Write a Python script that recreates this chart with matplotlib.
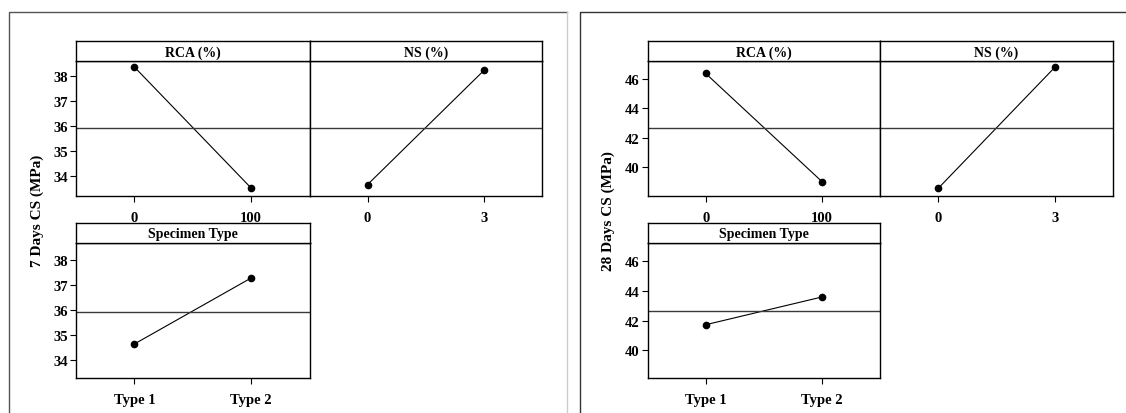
import matplotlib.pyplot as plt
from matplotlib.lines import Line2D

# main effects plot data (means)
rca_levels = ["0", "100"]
ns_levels = ["0", "3"]
spec_levels = ["Type 1", "Type 2"]

rca_7 = [38.38, 33.53]
ns_7 = [33.67, 38.24]
spec_7 = [34.64, 37.28]
mean_7 = 35.94

rca_28 = [46.36, 39.05]
ns_28 = [38.59, 46.77]
spec_28 = [41.73, 43.60]
mean_28 = 42.66

plt.rcParams['font.family'] = ['Liberation Serif', 'DejaVu Serif']
plt.rcParams['font.weight'] = 'bold'

W, H = 1126, 414
fig = plt.figure(figsize=(W / 100, H / 100), dpi=100)


def box(x0, y0, x1, y1):
    # pixel box (y from top) -> figure fraction rect
    return [x0 / W, 1 - y1 / H, (x1 - x0) / W, (y1 - y0) / H]


def panel(x0, x1, ytop, ybot, strip_top, title, levels, vals, mean,
          ylim, yticks, left_ticks=True):
    ax = fig.add_axes(box(x0, ytop, x1, ybot))
    ax.plot([0, 1], vals, color='black', lw=0.8, marker='o', ms=4.5)
    ax.axhline(mean, color='#3a3a3a', lw=1.0)
    ax.set_xlim(-0.5, 1.5)
    ax.set_ylim(*ylim)
    ax.set_xticks([0, 1])
    ax.set_xticklabels(levels, fontsize=10.5, fontweight='bold')
    if left_ticks:
        ax.set_yticks(yticks)
        ax.set_yticklabels([str(t) for t in yticks], fontsize=10.5, fontweight='bold')
    else:
        ax.set_yticks([])
    ax.tick_params(length=4, width=0.8, pad=7, direction='out')
    ax.tick_params(axis='y', pad=2)
    for s in ax.spines.values():
        s.set_linewidth(1.0)
    sax = fig.add_axes(box(x0, strip_top, x1, ytop))
    sax.set_xticks([])
    sax.set_yticks([])
    for s in sax.spines.values():
        s.set_linewidth(1.0)
    sax.text(0.5, 0.45, title, ha='center', va='center', fontsize=10,
             fontweight='bold', transform=sax.transAxes)
    return ax


def block(xl, xm, xr, vals, mean, ylim_top, ylim_bot, yticks, ylabel, ylab_x):
    rca, ns, spec = vals
    panel(xl, xm, 62, 197, 42, "RCA (%)", rca_levels, rca, mean, ylim_top, yticks)
    panel(xm, xr, 62, 197, 42, "NS (%)", ns_levels, ns, mean, ylim_top, yticks,
          left_ticks=False)
    panel(xl, xm, 244, 379, 224, "Specimen Type", spec_levels, spec, mean,
          ylim_bot, yticks)
    fig.text(ylab_x / W, 1 - 211 / H, ylabel, rotation=90, ha='center', va='center',
             fontsize=11, fontweight='bold')


block(76, 309.5, 542, (rca_7, ns_7, spec_7), mean_7,
      (33.21, 38.62), (33.28, 38.68), [34, 35, 36, 37, 38], "7 Days CS (MPa)", 37)
block(647.5, 880, 1113, (rca_28, ns_28, spec_28), mean_28,
      (38.07, 47.2), (38.14, 47.24), [40, 42, 44, 46], "28 Days CS (MPa)", 608)

# outer frames of the two pictures
def fline(xs, ys, color):
    fig.add_artist(Line2D([x / W for x in xs], [1 - y / H for y in ys],
                          color=color, lw=1.0, transform=fig.transFigure))

fline([9, 9, 567], [420, 13, 13], '#555555')
fline([567, 567], [13, 420], '#cccccc')
fline([580, 580, 1130], [420, 13, 13], '#333333')

fig.savefig("out.png", dpi=100)
